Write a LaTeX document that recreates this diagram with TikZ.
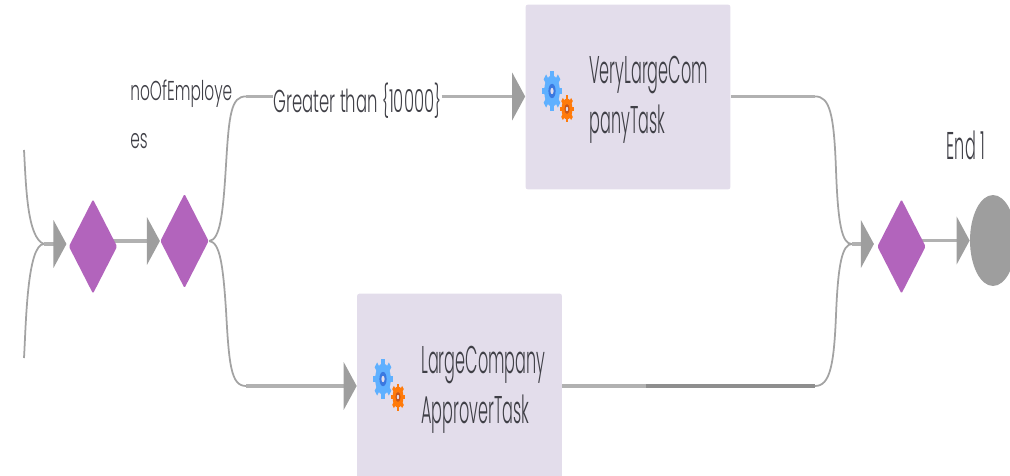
\documentclass[tikz,border=0pt]{standalone}
\usepackage{fontspec}
\setmainfont[FakeStretch=0.52]{Poppins Light}
\newfontfamily\tasktype[FakeStretch=0.416]{Poppins Light}
\newfontfamily\gatetype[FakeStretch=0.565]{Poppins Light}
\usetikzlibrary{shapes.geometric,arrows.meta,backgrounds}
\definecolor{gatefill}{HTML}{B264BC}
\definecolor{taskfill}{HTML}{E3DDEB}
\definecolor{flowgrey}{HTML}{A3A3A3}
\definecolor{tipgrey}{HTML}{9E9E9E}
\definecolor{txtgrey}{HTML}{3F3F46}
\definecolor{gearblue}{HTML}{5FB0FF}
\definecolor{gearring}{HTML}{3A78E0}
\definecolor{gearorange}{HTML}{FF7A0A}
\definecolor{gearrust}{HTML}{C8561A}
\tikzset{
  gate/.style={shape=diamond,fill=gatefill,rounded corners=0.8pt,inner sep=0pt,minimum width=0.97cm,minimum height=1.89cm},
  endstate/.style={shape=ellipse,fill=tipgrey,inner sep=0pt,minimum width=0.92cm,minimum height=1.82cm},
  taskbox/.style={rectangle,fill=taskfill,rounded corners=1.5pt,minimum width=4.1cm,minimum height=3.7cm},
  flow/.style={draw=flowgrey!85,line width=2pt,-{Triangle[length=7.4pt,width=27pt,color=tipgrey]}},
  thinflow/.style={draw=flowgrey,line width=1pt},
  straightflow/.style={draw=flowgrey!85,line width=2pt},
  tasktext/.style={text=txtgrey,align=left,anchor=north west,inner sep=0pt,font=\tasktype\fontsize{22}{28.4}\selectfont},
  flowtext/.style={text=txtgrey,align=left,anchor=north west,inner sep=0pt,font=\gatetype\fontsize{15.5}{27.2}\selectfont},
}
% one cog: x, y, half width, half height, body colour, ring colour
\newcommand{\cogwheel}[6]{
  \begin{scope}[shift={(#1,#2)},xscale=#3,yscale=#4]
    \fill[#5] (0,0) circle (0.78);
    \foreach \a in {0,45,...,315}
      \fill[#5,rotate=\a] (-0.17,0.7) rectangle (0.17,1);
    \fill[#6] (0,0) circle (0.36);
    \fill[taskfill] (0,0) circle (0.16);
  \end{scope}
}

\begin{document}
\begin{tikzpicture}[x=0.02cm,y=-0.02cm]
  \path[use as bounding box,clip] (0,0) rectangle (1010,476);

  \node[gate] (gateA) at (93,246.5) {};
  \node[gate] (gateB) at (184.5,241) {};
  \node[gate] (gateC) at (901.5,246.5) {};
  \node[endstate] (endone) at (993,240.5) {};
  \node[taskbox] (veryTask) at (628,97) {};
  \node[taskbox] (largeTask) at (459.5,386) {};

  \node[flowtext] (noOfEmp) at (130,79.5) {noOfEmploye\\es};
  \node[flowtext,font=\fontsize{18}{24}\selectfont] (greater) at (273,83) {Greater than \{10000\}};
  \node[tasktext] (endlabel) at (946.5,131) {End 1};
  \node[tasktext] (veryText) at (589,56) {VeryLargeCom\\panyTask};
  \node[tasktext] (largeText) at (421,346) {LargeCompany\\ApproverTask};

  \cogwheel{552}{91}{10}{20}{gearblue}{gearring}
  \cogwheel{567}{109}{7}{13.5}{gearorange}{gearrust}
  \cogwheel{383}{379}{10}{20}{gearblue}{gearring}
  \cogwheel{398}{397}{7}{13.5}{gearorange}{gearrust}

  \coordinate (inTop) at (24,150);
  \coordinate (inBottom) at (24,358);
  \coordinate (joinA) at (44,244);
  \coordinate (upperB) at (246,96.5);
  \coordinate (lowerB) at (246,386);
  \coordinate (upperC) at (815,96.5);
  \coordinate (lowerC) at (815,386);
  \coordinate (darkStart) at (646,386);
  \coordinate (joinC) at (852,244);

  \begin{scope}[on background layer]
    \draw[thinflow] (inTop) .. controls (26,185) and (27,238) .. (joinA);
    \draw[thinflow] (inBottom) .. controls (26,325) and (27,244) .. (joinA);
    \draw[flow,shorten >=1.1pt] (joinA) -- (joinA -| gateA.west);
    \draw[flow] (gateA.center |- gateB.west) -- (gateB.west);
    \draw[thinflow] (gateB.east) .. controls (220,240) and (223,215) .. (226,165)
      .. controls (229,115) and (231,96) .. (upperB);
    \draw[thinflow] (gateB.east) .. controls (220,242) and (223,265) .. (226,310)
      .. controls (229,365) and (231,386) .. (lowerB);
    \draw[straightflow] (upperB) -- (upperB -| greater.west);
    \draw[flow] (upperB -| greater.east) -- (upperB -| veryTask.west);
    \draw[flow] (lowerB) -- (largeTask.west);
    \draw[straightflow] (veryTask.east |- upperC) -- (upperC);
    \draw[straightflow] (largeTask.east) -- (darkStart);
    \draw[straightflow,draw=tipgrey!90!black] (darkStart) -- (lowerC);
    \draw[thinflow] (upperC) .. controls (830,96) and (834,115) .. (836,170)
      .. controls (838,225) and (842,244) .. (joinC);
    \draw[thinflow] (lowerC) .. controls (830,386) and (834,365) .. (836,315)
      .. controls (838,265) and (842,244) .. (joinC);
    \draw[flow,shorten >=1.7pt] (joinC) -- (joinC -| gateC.west);
    \draw[flow] (gateC.center |- endone.west) -- (endone.west);
  \end{scope}
\end{tikzpicture}
\end{document}
